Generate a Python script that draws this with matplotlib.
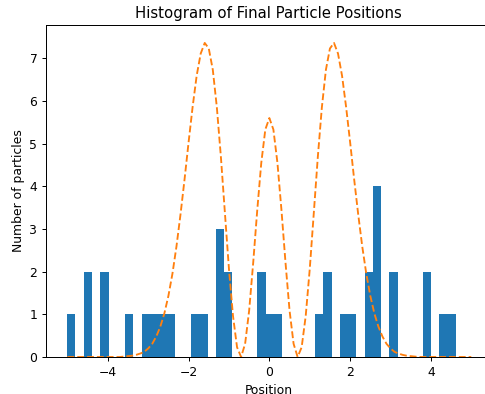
import matplotlib
matplotlib.use('Agg')
import matplotlib.pyplot as plt
import numpy as np

# histogram of final positions: 47 bins between the min and max position
hist_min = -5.005
hist_max = 4.61
counts = [1, 0, 2, 0, 2, 0, 0, 1, 0, 1,
          1, 1, 1, 0, 0, 1, 1, 0, 3, 2,
          0, 0, 0, 2, 1, 1, 0, 0, 0, 0,
          1, 2, 0, 1, 1, 0, 2, 4, 0, 2,
          0, 0, 0, 2, 0, 1, 1]

# expected distribution (dashed), sampled every 0.1 from -5 to 5
curve_x = np.linspace(-5, 5, 101)
curve_y = [0.00, 0.00, 0.00, 0.00, 0.00, 0.00, 0.00, 0.00, 0.00, 0.00,
           0.00, 0.00, 0.00, 0.00, 0.01, 0.02, 0.03, 0.05, 0.08, 0.12,
           0.20, 0.31, 0.48, 0.71, 1.02, 1.43, 1.95, 2.59, 3.34, 4.16,
           5.03, 5.86, 6.59, 7.11, 7.36, 7.23, 6.73, 5.85, 4.69, 3.37,
           2.06, 0.96, 0.23, 0.00, 0.31, 1.09, 2.21, 3.44, 4.55, 5.33,
           5.60,
           5.33, 4.55, 3.44, 2.21, 1.09, 0.31, 0.00, 0.23, 0.96, 2.06,
           3.37, 4.69, 5.85, 6.73, 7.23, 7.36, 7.11, 6.59, 5.86, 5.03,
           4.16, 3.34, 2.59, 1.95, 1.43, 1.02, 0.71, 0.48, 0.31, 0.20,
           0.12, 0.08, 0.05, 0.03, 0.02, 0.01, 0.00, 0.00, 0.00, 0.00,
           0.00, 0.00, 0.00, 0.00, 0.00, 0.00, 0.00, 0.00, 0.00, 0.00]

edges = np.linspace(hist_min, hist_max, len(counts) + 1)

dpi = 89
fig = plt.figure(figsize=(485 / dpi, 394 / dpi), dpi=dpi)
# axes runs a little past the right edge of the picture, like the reference
ax = fig.add_axes([46 / 485, 37 / 394, 445.5 / 485, 332 / 394])

ax.hist(edges[:-1], bins=edges, weights=counts, color='C0')
ax.plot(curve_x, curve_y, '--', color='C1')

ax.set_xlim(-5.53, 5.5)
ax.set_ylim(0, 7.78)
ax.set_title('Histogram of Final Particle Positions')
ax.set_xlabel('Position')
ax.set_ylabel('Number of particles')

fig.savefig('out.png', dpi=dpi)
